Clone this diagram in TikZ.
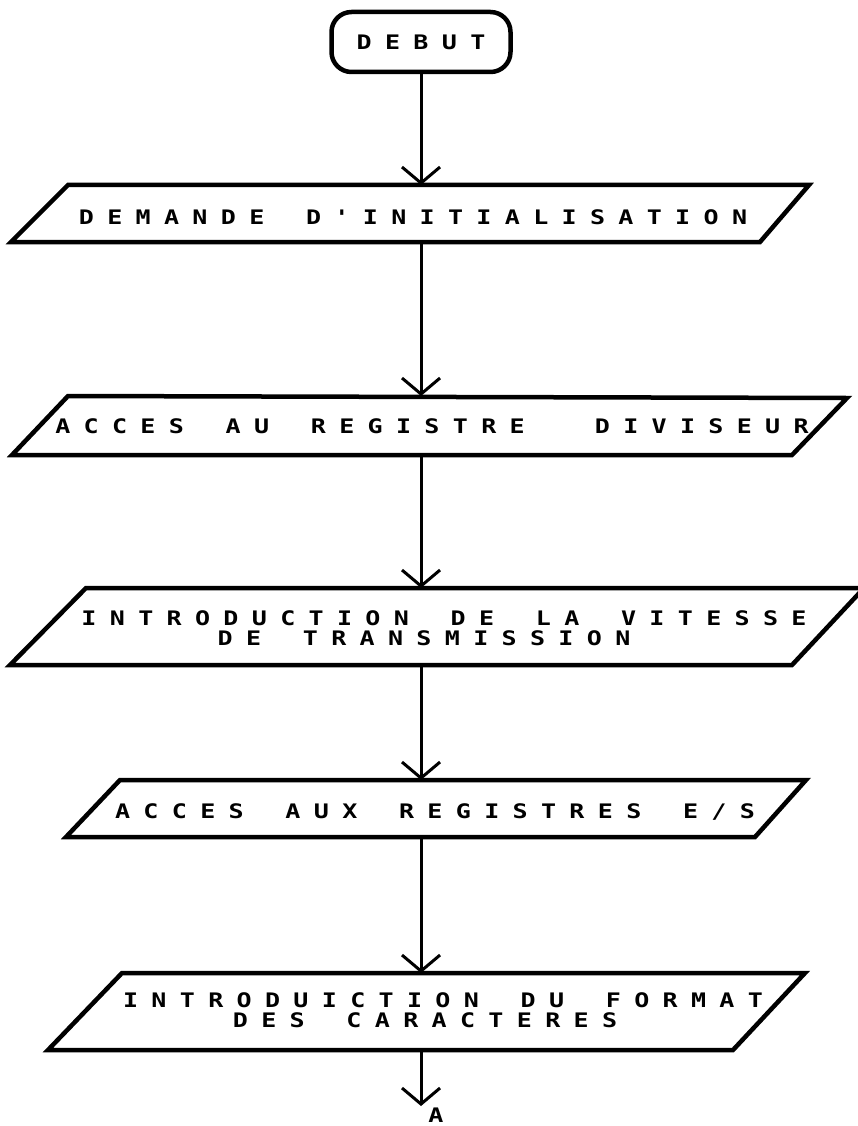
\documentclass[tikz,border=0pt]{standalone}
\usepackage{fontspec}
\usetikzlibrary{arrows.meta}
\newfontfamily\plotterfont{DejaVu Sans Mono}[FakeStretch=1.25]
% fixed-pitch lettering: every character sits in a box of \charpitch, '*' is a blank cell
\newlength\charpitch
\setlength\charpitch{28.4pt}
\makeatletter
\def\ptxt#1{\ptxt@#1\relax}
\def\ptxt@#1{\ifx#1\relax\else\ptxt@char{#1}\expandafter\ptxt@\fi}
\def\ptxt@char#1{\ifx*#1\hbox to\charpitch{\hss}\else\hbox to\charpitch{\hss#1\hss}\fi}
\makeatother
\begin{document}
\begin{tikzpicture}[x=1pt, y=-1pt,
  iobox/.style={line width=4.5pt, line join=miter},
  flow/.style={line width=3pt, -{Straight Barb[length=16pt, width=38pt]}},
  lettering/.style={font=\plotterfont\bfseries\fontsize{20}{20}\selectfont, inner sep=0pt},
  txt/.style={lettering, anchor=base},
  startstop/.style={lettering, draw, line width=4.5pt, rounded corners=20pt,
    minimum width=179pt, minimum height=60pt}]
\fill[white] (0,0) rectangle (857,1126);
\useasboundingbox (0,0) rectangle (857,1126);

% start terminal
\node[startstop] (debut) at (421,42) {\ptxt{DEBUT}};

% input/output parallelograms
\draw[iobox] (68,185) -- (809,185) -- (760,242) -- (11,242) -- cycle;
\coordinate (b1n) at (421,185); \coordinate (b1s) at (421,242);
\node[txt] (t1) at (413,224) {\ptxt{DEMANDE*D'INITIALISATION}};

\draw[iobox] (68,396) -- (847,398) -- (792,455) -- (12,455) -- cycle;
\coordinate (b2n) at (421,396); \coordinate (b2s) at (421,455);
\node[txt] (t2) at (432,433) {\ptxt{ACCES*AU*REGISTRE**DIVISEUR}};

\draw[iobox] (86,588) -- (864,588) -- (792,665) -- (10,665) -- cycle;
\coordinate (b3n) at (421,588); \coordinate (b3s) at (421,665);
\node[txt] (t3a) at (444,625) {\ptxt{INTRODUCTION*DE*LA*VITESSE}};
\node[txt] (t3b) at (424,645) {\ptxt{DE*TRANSMISSION}};

\draw[iobox] (120,780) -- (806,780) -- (755,837) -- (66,837) -- cycle;
\coordinate (b4n) at (421,780); \coordinate (b4s) at (421,837);
\node[txt] (t4) at (435,818) {\ptxt{ACCES*AUX*REGISTRES*E/S}};

\draw[iobox] (122,973) -- (805,973) -- (733,1050) -- (48,1050) -- cycle;
\coordinate (b5n) at (421,973); \coordinate (b5s) at (421,1050);
\node[txt] (t5a) at (443,1007) {\ptxt{INTRODUICTION*DU*FORMAT}};
\node[txt] (t5b) at (425,1027) {\ptxt{DES*CARACTERES}};

% off-page connector
\coordinate (out) at (421,1106);
\node[txt] (conn) at (436,1122) {A};

% flow lines
\draw[flow] (debut.south) -- (b1n);
\draw[flow] (b1s) -- (b2n);
\draw[flow] (b2s) -- (b3n);
\draw[flow] (b3s) -- (b4n);
\draw[flow] (b4s) -- (b5n);
\draw[flow] (b5s) -- (out);
\end{tikzpicture}
\end{document}
